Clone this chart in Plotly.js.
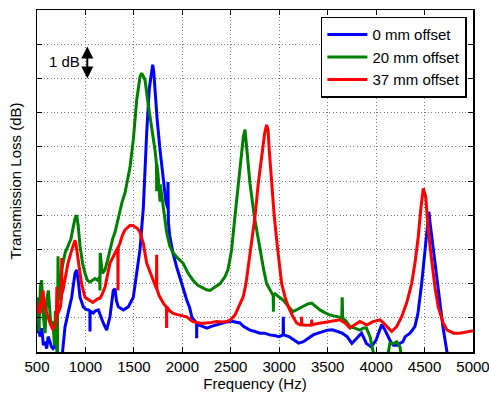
<!DOCTYPE html>
<html>
<head>
<meta charset="utf-8">
<script src="https://cdn.plot.ly/plotly-3.0.1.min.js"></script>
<style>html,body{margin:0;padding:0;background:#fff;}#chart{width:489px;height:394px;}</style>
</head>
<body>
<div id="chart"></div>
<script>
const seriesNames = ["0 mm offset", "20 mm offset", "37 mm offset"];
const xTicks = [500, 1000, 1500, 2000, 2500, 3000, 3500, 4000, 4500, 5000];

const blueFreq = [500,515,530,550,565,583,600,615,634,650,665,690,710,737,760,775,789,820,858,892,909,925,944,978,1000,1030,1046,1047,1048,1081,1100,1133,1160,1184,1219,1253,1287,1305,1320,1339,1391,1442,1494,1529,1563,1597,1608,1632,1659,1680,1694,1705,1720,1740,1770,1800,1830,1850,1852,1856,1870,1903,1940,1976,2010,2048,2075,2100,2130,2147,2148,2150,2161,2210,2254,2300,2357,2410,2460,2510,2564,2595,2630,2667,2698,2750,2801,2850,2900,2950,3000,3040,3042,3045,3100,3150,3200,3250,3300,3350,3400,3450,3500,3550,3600,3650,3700,3750,3800,3850,3900,3950,4000,4030,4057,4090,4124,4150,4180,4220,4250,4277,4300,4350,4400,4432,4470,4504,4528,4545,4560,4587,4625,4659,4690,4728,4760];
const blueVal = [0.55,0.9,0.45,0.7,0.2,0.3,0.1,0.45,0.3,0.15,0.1,0.2,0.05,-0.3,-0.1,0.3,0.73,1.13,1.6,2.3,2.4,2.1,1.6,1.32,1.25,1.23,1.2,0.6,1.2,1.14,1.2,1.23,1.0,0.85,0.64,1.03,1.8,1.85,1.5,1.32,1.23,1.32,1.6,2.3,3.0,4.2,5.0,6.4,7.7,8.2,8.4,8.2,7.5,6.8,5.9,5.1,4.4,4.2,4.97,3.8,3.4,2.9,2.5,2.2,1.85,1.5,1.3,1.0,0.9,0.85,0.4,0.85,0.8,0.75,0.7,0.75,0.8,0.85,0.88,0.9,0.88,0.85,0.75,0.7,0.64,0.6,0.55,0.55,0.5,0.48,0.45,0.5,1.03,0.5,0.45,0.35,0.26,0.3,0.4,0.5,0.55,0.6,0.64,0.65,0.6,0.55,0.45,0.25,0.4,0.55,0.25,0.15,0.35,0.6,0.8,0.65,0.45,0.3,0.2,0.2,0.26,0.3,0.45,0.55,0.74,1.13,2.0,2.9,3.66,4.1,3.7,3.08,2.1,1.43,0.73,0.06,-0.5];

const greenFreq = [500,510,520,535,548,560,583,600,617,640,665,680,690,700,710,717,725,755,790,820,850,870,892,910,925,944,970,995,1020,1047,1075,1099,1125,1148,1150,1152,1175,1202,1230,1253,1280,1305,1330,1356,1380,1408,1435,1460,1494,1529,1563,1580,1600,1615,1645,1684,1718,1733,1735,1737,1749,1770,1772,1786,1810,1838,1870,1905,1950,2007,2060,2110,2160,2213,2250,2285,2340,2390,2440,2470,2491,2509,2543,2577,2612,2630,2647,2664,2698,2743,2801,2840,2870,2905,2938,2940,2942,2956,2990,3040,3090,3142,3190,3245,3290,3335,3380,3420,3470,3524,3575,3627,3645,3650,3655,3690,3730,3780,3833,3870,3900,3937,3968,4000,4100,4130,4143,4180,4212,4246,4270,4300];
const greenVal = [1.0,1.6,0.6,1.9,2.1,1.2,0.55,1.5,1.8,0.9,0.85,0.2,1.2,0.3,-0.3,2.8,1.5,2.4,2.9,3.1,3.3,3.6,3.9,4.0,3.7,3.1,2.6,2.3,2.1,2.05,2.1,2.15,2.1,2.2,1.8,2.9,2.3,2.4,2.7,3.0,3.3,3.5,3.8,4.15,4.4,4.65,5.0,5.4,6.2,7.37,8.05,8.15,8.05,7.95,7.3,6.6,5.9,5.5,4.7,5.5,5.2,4.4,4.9,4.6,4.0,3.5,3.1,2.9,2.75,2.6,2.3,2.1,1.95,1.87,1.82,1.8,1.9,2.0,2.2,2.4,2.7,3.0,3.96,4.93,5.9,6.3,6.5,5.9,4.93,3.96,3.0,2.4,2.0,1.8,1.65,1.18,1.65,1.7,1.62,1.52,1.35,1.18,1.25,1.32,1.4,1.43,1.32,1.23,1.15,1.08,1.05,1.0,1.0,1.6,1.0,0.9,0.74,0.7,0.64,0.7,0.7,0.45,0.05,-0.4,-0.4,0.1,0.26,0.25,0.3,0.15,-0.3,-0.5];

const redFreq = [500,515,531,545,562,580,600,614,640,665,690,700,705,710,740,753,755,757,768,800,820,850,871,892,905,923,960,995,1020,1047,1075,1099,1125,1150,1175,1202,1230,1253,1280,1305,1334,1336,1338,1356,1380,1408,1435,1460,1490,1511,1540,1563,1597,1632,1660,1684,1710,1733,1735,1737,1760,1787,1810,1836,1838,1840,1870,1905,1940,1976,2010,2045,2080,2110,2150,2182,2220,2251,2300,2354,2400,2457,2500,2543,2570,2595,2629,2657,2705,2750,2784,2825,2850,2870,2885,2897,2922,2949,2984,3025,3059,3090,3142,3180,3214,3229,3231,3233,3265,3317,3333,3335,3337,3370,3420,3470,3524,3575,3627,3680,3730,3780,3833,3870,3902,3968,4040,4075,4109,4161,4212,4264,4315,4367,4401,4435,4460,4487,4512,4538,4573,4607,4641,4693,4730,4762,4800,4865,4920,4969,5000];
const redVal = [1.43,1.2,1.13,1.5,1.8,1.3,1.1,1.03,0.8,0.65,0.8,1.0,1.9,1.1,1.3,1.6,2.75,1.7,1.8,2.3,2.6,2.9,3.07,3.27,3.1,2.7,2.0,1.6,1.55,1.5,1.45,1.5,1.55,1.57,1.7,1.9,2.3,2.6,2.75,2.9,3.05,1.8,3.05,3.18,3.4,3.57,3.65,3.7,3.7,3.66,3.6,3.5,3.18,2.6,2.4,2.2,2.0,1.85,2.84,1.85,1.65,1.52,1.4,1.32,0.7,1.32,1.2,1.13,1.1,1.08,1.05,1.03,0.95,0.89,0.86,0.84,0.84,0.84,0.86,0.89,0.88,0.89,0.95,1.08,1.25,1.43,1.62,2.0,3.0,3.96,4.93,5.9,6.4,6.64,6.5,5.9,4.93,3.96,3.0,2.0,1.62,1.35,1.03,0.85,0.79,0.8,1.03,0.8,0.78,0.79,0.79,0.95,0.79,0.82,0.84,0.87,0.89,0.92,0.94,0.85,0.7,0.8,0.89,0.84,0.79,0.89,0.94,0.85,0.74,0.6,0.74,1.03,1.43,2.0,2.6,3.37,4.15,4.78,4.54,3.57,2.69,1.91,1.32,0.84,0.65,0.6,0.55,0.55,0.58,0.6,0.62];

const FONT = "Liberation Sans, Arial, sans-serif";
const colors = ["#0000ff", "#008000", "#ff0000"];
const xs = [blueFreq, greenFreq, redFreq];
const ys = [blueVal, greenVal, redVal];

const traces = seriesNames.map((n, i) => ({
  x: xs[i], y: ys[i], name: n, type: "scatter", mode: "lines",
  line: {color: colors[i], width: 3}
}));

const axisCommon = {
  showline: true, linecolor: "#000", linewidth: 1.5, mirror: "ticks",
  ticks: "inside", ticklen: 5, tickcolor: "#000", tickwidth: 1,
  showgrid: true, gridcolor: "#7a7a7a", gridwidth: 1, griddash: "1px,2.4px",
  zeroline: false, tickfont: {family: FONT, size: 15, color: "#000"}
};

const layout = {
  width: 489, height: 394,
  margin: {l: 37, r: 16, t: 10, b: 42},
  paper_bgcolor: "#fff", plot_bgcolor: "#fff",
  showlegend: true,
  legend: {x: 0.986, xanchor: "right", y: 0.98, yanchor: "top",
    bgcolor: "#fff", bordercolor: "#000", borderwidth: 1.5,
    font: {family: FONT, size: 15, color: "#000"}, itemwidth: 40, tracegroupgap: 0},
  xaxis: Object.assign({}, axisCommon, {
    range: [500, 5000], tickvals: xTicks, ticktext: xTicks.map(String),
    ticklabeloverflow: "allow",
    title: {text: "Frequency (Hz)", font: {family: FONT, size: 15, color: "#000"}, standoff: 4}
  }),
  yaxis: Object.assign({}, axisCommon, {
    range: [0, 10], dtick: 1, tick0: 0, showticklabels: false,
    title: {text: "Transmission Loss (dB)", font: {family: FONT, size: 15, color: "#000"}, standoff: 10}
  }),
  annotations: [
    {x: 1019, y: 8.93, ax: 1019, ay: 7.95, xref: "x", yref: "y", axref: "x", ayref: "y",
     text: "", showarrow: true, arrowhead: 2, arrowside: "end+start", arrowsize: 1.2, arrowwidth: 2, arrowcolor: "#000"},
    {x: 779, y: 8.49, xref: "x", yref: "y", text: "1 dB", showarrow: false,
     font: {family: FONT, size: 15, color: "#000"}}
  ]
};

Plotly.newPlot("chart", traces, layout, {staticPlot: true, displayModeBar: false});
</script>
</body>
</html>
